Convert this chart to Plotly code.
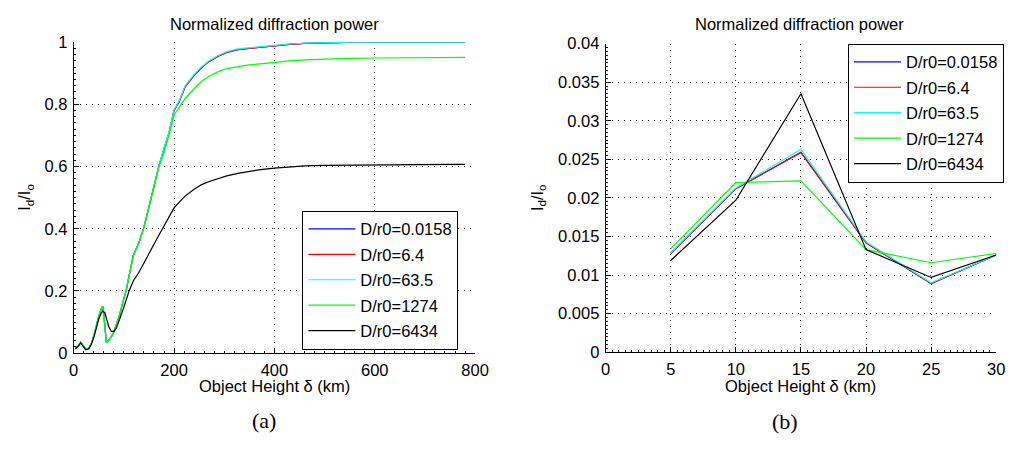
import plotly.graph_objects as go

# ---- panel (a): diffraction power versus object height, 0-800 km ----
height_a = [3, 8, 14, 19, 24, 30, 35, 40, 45, 50, 55, 58, 62, 65, 70, 75, 80, 85, 90,
            95, 100, 105, 110, 119, 130, 140, 150, 160, 170, 180, 190, 200, 210, 222,
            240, 255, 270, 288, 305, 327, 350, 372, 400, 430, 460, 500, 550, 600, 650,
            700, 750, 780]

power_a_0158 = [0.015, 0.022, 0.035, 0.022, 0.012, 0.015, 0.030, 0.055, 0.090, 0.120,
                0.142, 0.151, 0.090, 0.035, 0.042, 0.052, 0.068, 0.090, 0.115, 0.145,
                0.175, 0.205, 0.245, 0.315, 0.355, 0.405, 0.470, 0.537, 0.603, 0.657,
                0.708, 0.780, 0.808, 0.856, 0.893, 0.918, 0.938, 0.955, 0.967, 0.976,
                0.980, 0.984, 0.989, 0.993, 0.996, 0.998, 0.999, 1.000, 1.000, 1.000,
                1.000, 1.000]
power_a_64 = [0.015, 0.022, 0.035, 0.022, 0.012, 0.015, 0.030, 0.055, 0.090, 0.120,
              0.142, 0.151, 0.090, 0.035, 0.042, 0.052, 0.068, 0.090, 0.115, 0.145,
              0.175, 0.205, 0.245, 0.315, 0.355, 0.405, 0.470, 0.537, 0.603, 0.657,
              0.708, 0.780, 0.808, 0.856, 0.893, 0.918, 0.938, 0.955, 0.967, 0.976,
              0.980, 0.984, 0.989, 0.993, 0.996, 0.998, 0.999, 1.000, 1.000, 1.000,
              1.000, 1.000]
power_a_635 = [0.015, 0.022, 0.035, 0.022, 0.012, 0.015, 0.030, 0.055, 0.090, 0.120,
               0.142, 0.151, 0.090, 0.035, 0.042, 0.052, 0.068, 0.090, 0.115, 0.145,
               0.175, 0.205, 0.245, 0.315, 0.355, 0.405, 0.470, 0.538, 0.605, 0.660,
               0.711, 0.783, 0.811, 0.859, 0.896, 0.921, 0.940, 0.957, 0.969, 0.978,
               0.982, 0.986, 0.990, 0.994, 0.997, 0.999, 1.000, 1.000, 1.000, 1.000,
               1.000, 1.000]
power_a_1274 = [0.015, 0.022, 0.035, 0.022, 0.012, 0.015, 0.030, 0.055, 0.090, 0.120,
                0.142, 0.151, 0.090, 0.035, 0.042, 0.052, 0.068, 0.090, 0.115, 0.145,
                0.175, 0.205, 0.245, 0.315, 0.355, 0.405, 0.470, 0.535, 0.600, 0.645,
                0.700, 0.765, 0.790, 0.818, 0.850, 0.874, 0.890, 0.905, 0.915, 0.922,
                0.927, 0.930, 0.936, 0.940, 0.943, 0.946, 0.948, 0.949, 0.950, 0.950,
                0.951, 0.951]
power_a_6434 = [0.013, 0.020, 0.033, 0.020, 0.011, 0.014, 0.028, 0.050, 0.080, 0.110,
                0.130, 0.135, 0.130, 0.115, 0.085, 0.070, 0.070, 0.080, 0.100, 0.125,
                0.148, 0.172, 0.198, 0.233, 0.260, 0.290, 0.318, 0.350, 0.380, 0.410,
                0.440, 0.467, 0.485, 0.505, 0.527, 0.542, 0.552, 0.562, 0.570, 0.578,
                0.585, 0.590, 0.595, 0.599, 0.602, 0.604, 0.605, 0.606, 0.607, 0.607,
                0.607, 0.607]

# ---- panel (b): diffraction power versus object height, 5-30 km ----
height_b = [5, 10, 15, 20, 25, 30]
power_b_0158 = [0.0128, 0.0212, 0.0259, 0.0142, 0.0089, 0.0126]
power_b_64 = [0.0128, 0.0212, 0.0259, 0.0142, 0.0089, 0.0126]
power_b_635 = [0.0129, 0.0213, 0.0263, 0.0143, 0.0090, 0.0126]
power_b_1274 = [0.0134, 0.0220, 0.0222, 0.0133, 0.0116, 0.0128]
power_b_6434 = [0.0119, 0.0197, 0.0335, 0.0133, 0.0097, 0.0126]

series_names = ["D/r0=0.0158", "D/r0=6.4", "D/r0=63.5", "D/r0=1274", "D/r0=6434"]
series_colors = ["#0000ff", "#ff0000", "#00ffff", "#00ff00", "#000000"]

FONT = "Liberation Sans, Arial, sans-serif"
FS = 16.5
W, H = 1023, 450

fig = go.Figure()

panel_a = [power_a_0158, power_a_64, power_a_635, power_a_1274, power_a_6434]
panel_b = [power_b_0158, power_b_64, power_b_635, power_b_1274, power_b_6434]

for name, color, ys in zip(series_names, series_colors, panel_a):
    fig.add_trace(go.Scatter(x=height_a, y=ys, mode="lines", name=name,
                             line=dict(color=color, width=1.2),
                             legendgroup="a" + name,
                             xaxis="x", yaxis="y", legend="legend"))
for name, color, ys in zip(series_names, series_colors, panel_b):
    fig.add_trace(go.Scatter(x=height_b, y=ys, mode="lines", name=name,
                             line=dict(color=color, width=1.2),
                             legendgroup="b" + name,
                             xaxis="x2", yaxis="y2", legend="legend2"))


def px_x(p):
    return p / W


def px_y(p):
    return 1 - p / H


axis_common = dict(
    showline=True, linecolor="black", linewidth=1,
    ticks="inside", ticklen=5, tickcolor="black", tickwidth=1,
    showgrid=True, gridcolor="#222", gridwidth=1, griddash="1px,5px",
    zeroline=False, tickfont=dict(family=FONT, size=FS, color="black"),
    ticklabelstandoff=2, fixedrange=True,
)

legend_common = dict(xanchor="left", yanchor="top", bgcolor="white",
                     bordercolor="black", borderwidth=1,
                     font=dict(family=FONT, size=FS), itemwidth=47,
                     tracegroupgap=1)

fig.update_layout(
    width=W, height=H,
    margin=dict(l=0, r=0, t=0, b=0),
    paper_bgcolor="white", plot_bgcolor="white",
    font=dict(family=FONT, size=FS, color="black"),
    xaxis=dict(domain=[px_x(70), px_x(479)], range=[0, 800], dtick=200,
               anchor="y", minor=dict(dtick=20, ticklen=2, ticks="inside",
                                      tickcolor="black", showgrid=False),
               **axis_common),
    yaxis=dict(domain=[px_y(358.5), px_y(34.5)], range=[0, 1], dtick=0.2,
               anchor="x", minor=dict(dtick=0.02, ticklen=2, ticks="inside",
                                      tickcolor="black", showgrid=False),
               **axis_common),
    xaxis2=dict(domain=[px_x(612), px_x(1010)], range=[0, 30], dtick=5,
                anchor="y2", minor=dict(dtick=0.5, ticklen=2, ticks="inside",
                                        tickcolor="black", showgrid=False),
                **axis_common),
    yaxis2=dict(domain=[px_y(357.6), px_y(36)], range=[0, 0.04], dtick=0.005,
                anchor="x2", minor=dict(dtick=0.0005, ticklen=2, ticks="inside",
                                        tickcolor="black", showgrid=False),
                **axis_common),
    legend=dict(x=px_x(303), y=px_y(210), **legend_common),
    legend2=dict(x=px_x(859), y=px_y(36), **legend_common),
    showlegend=True,
)

labels = [
    # panel titles
    dict(text="Normalized diffraction power", x=274.5, y=16, size=FS, family=FONT, angle=0),
    dict(text="Normalized diffraction power", x=810, y=16, size=FS, family=FONT, angle=0),
    # x-axis titles
    dict(text="Object Height \u03b4 (km)", x=274.5, y=393, size=FS, family=FONT, angle=0),
    dict(text="Object Height \u03b4 (km)", x=811, y=393, size=FS, family=FONT, angle=0),
    # y-axis titles
    dict(text="I<sub>d</sub>/I<sub>o</sub>", x=21, y=196, size=FS, family=FONT, angle=-90),
    dict(text="I<sub>d</sub>/I<sub>o</sub>", x=543, y=196, size=FS, family=FONT, angle=-90),
    # captions
    dict(text="(a)", x=264, y=429, size=22, family="Liberation Serif, serif", angle=0),
    dict(text="(b)", x=795, y=430, size=22, family="Liberation Serif, serif", angle=0),
]
for lab in labels:
    fig.add_annotation(text=lab["text"], x=px_x(lab["x"]), y=px_y(lab["y"]),
                       xref="paper", yref="paper", xanchor="center", yanchor="middle",
                       showarrow=False, textangle=lab["angle"],
                       font=dict(family=lab["family"], size=lab["size"], color="black"))

fig.write_html("out.html", config={"displayModeBar": False})
